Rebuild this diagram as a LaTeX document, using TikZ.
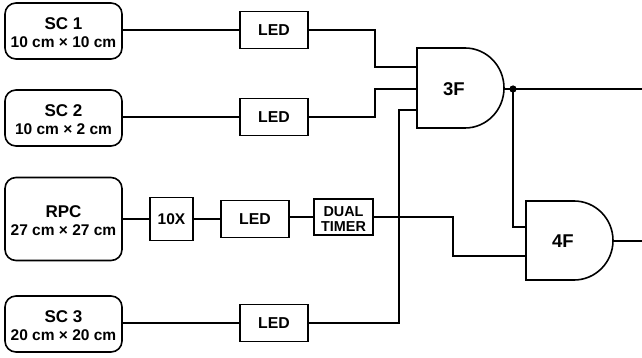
\documentclass[tikz,border=0pt]{standalone}
\usepackage{fontspec}
\setmainfont{Liberation Sans}
\begin{document}
\begin{tikzpicture}[x=1pt,y=-1pt,line width=1.6pt,
  det/.style={draw,rounded corners=11pt,minimum width=117pt,inner sep=0pt,align=center,font=\bfseries\fontsize{15.5}{18}\selectfont,anchor=center},
  led/.style={draw,minimum width=68pt,minimum height=37pt,inner sep=0pt,font=\bfseries\fontsize{15.8}{17}\selectfont},
  tenx/.style={draw,minimum width=43pt,minimum height=43pt,inner sep=0pt,font=\bfseries\fontsize{15.5}{17}\selectfont},
  timer/.style={draw,minimum width=59pt,minimum height=36pt,inner sep=0pt,align=center,font=\bfseries\fontsize{14.4}{16}\selectfont},
  gatelabel/.style={inner sep=0pt,font=\bfseries\fontsize{18.5}{20}\selectfont},
  wire/.style={draw,line join=miter}]
\useasboundingbox (0,0) rectangle (642,358);
\newcommand{\Size}[1]{{\fontsize{15.5}{18}\selectfont #1}}
\newcommand{\Name}[1]{{\fontsize{17}{19}\selectfont\rule{0pt}{16pt}#1}}
% detectors
\node[det,minimum height=56pt] (sc1) at (63.5,31) {\Name{SC 1}\\[0pt]\Size{10 cm × 10 cm}};
\node[det,minimum height=56pt] (sc2) at (63.5,118) {\Name{SC 2}\\[0pt]\Size{10 cm × 2 cm}};
\node[det,minimum height=83pt] (rpc) at (63.5,219) {\Name{RPC}\\[0pt]\Size{27 cm × 27 cm}};
\node[det,minimum height=56pt] (sc3) at (63.5,324) {\Name{SC 3}\\[0pt]\Size{20 cm × 20 cm}};
% modules
\node[led] (led1) at (274,30) {LED};
\node[led] (led2) at (274,117) {LED};
\node[tenx] (ten) at (171.5,219) {10X};
\node[led] (led3) at (255,219) {LED};
\node[timer] (dt) at (343.5,217) {\rule{0pt}{14pt}DUAL\\[-1pt]TIMER};
\node[led] (led4) at (274,323) {LED};
% gates
\draw (417,48) -- (465,48) arc[start angle=90,end angle=-90,x radius=39pt,y radius=40pt] -- (417,128) -- cycle;
\draw (526,201) -- (574,201) arc[start angle=90,end angle=-90,x radius=39pt,y radius=39.5pt] -- (526,280) -- cycle;
\node[gatelabel] (g3) at (454,89) {3F};
\node[gatelabel] (g4) at (563,241.5) {4F};
% ports
\coordinate (g3a) at (417,67);
\coordinate (g3b) at (417,89);
\coordinate (g3c) at (417,110);
\coordinate (g3o) at (504,89);
\coordinate (g4a) at (526,227);
\coordinate (g4b) at (526,256);
\coordinate (g4o) at (613,241);
\coordinate (j) at (513,89);
\coordinate (e3) at (642,89);
\coordinate (e4) at (642,241);
% wires
\draw[wire] (sc1.east |- led1) -- (led1);
\draw[wire] (sc2.east |- led2) -- (led2);
\draw[wire] (sc3.east |- led4) -- (led4);
\draw[wire] (rpc.east |- ten) -- (ten);
\draw[wire] (ten) -- (led3);
\draw[wire] (led3.east |- dt) -- (dt);
\draw[wire] (led1.east) -| (375,67) -- (g3a);
\draw[wire] (led2.east) -| (375,89) -- (g3b);
\draw[wire] (led4.east) -| (399,110) -- (g3c);
\draw[wire] (dt.east) -| (453,256) -- (g4b);
\draw[wire] (g3o) -- (e3);
\draw[wire] (j) |- (g4a);
\draw[wire] (g4o) -- (e4);
\fill (j) circle[radius=3.6pt];
\end{tikzpicture}
\end{document}
